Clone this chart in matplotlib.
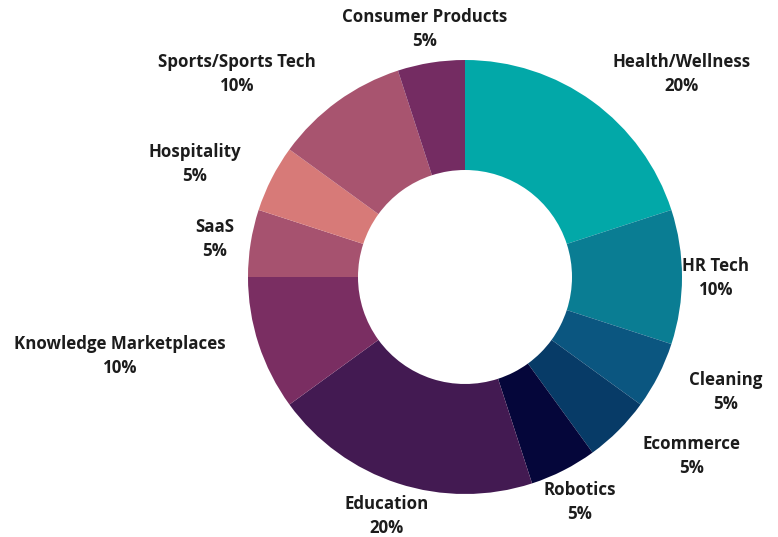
import matplotlib
matplotlib.use("Agg")
import matplotlib.pyplot as plt

categories = ["Health/Wellness", "HR Tech", "Cleaning", "Ecommerce", "Robotics",
              "Education", "Knowledge Marketplaces", "SaaS", "Hospitality",
              "Sports/Sports Tech", "Consumer Products"]
shares = [20, 10, 5, 5, 5, 20, 10, 5, 5, 10, 5]
colors = ["#02a8a8", "#0a7d93", "#0b5680", "#073b67", "#05063a",
          "#431a52", "#7a2e62", "#a6526f", "#d77a78", "#a8546f", "#742c62"]

# label anchor positions in pixel coordinates (layout only)
label_px = [(682, 74), (716, 278), (726, 392), (692, 456), (580, 502),
            (387, 516), (120, 356), (215, 239), (195, 164), (237, 74), (425, 29)]

W, H = 778, 537
fig = plt.figure(figsize=(W / 100, H / 100), dpi=100)
ax = fig.add_axes([0, 0, 1, 1])

cx, cy, R = 465, H - 277, 217
ax.pie(shares, colors=colors, startangle=90, counterclock=False,
       center=(cx, cy), radius=R, frame=True,
       wedgeprops=dict(width=R - 107, linewidth=0))
ax.set_xlim(0, W)
ax.set_ylim(0, H)
ax.set_aspect("equal")
ax.axis("off")

for cat, val, (px, py) in zip(categories, shares, label_px):
    ax.text(px, H - py, f"{cat}\n{val}%", ha="center", va="center",
            fontsize=12.2, fontweight="bold", family="Open Sans",
            color="#1c1c1c", linespacing=1.38)

fig.savefig("out.png", dpi=100)
